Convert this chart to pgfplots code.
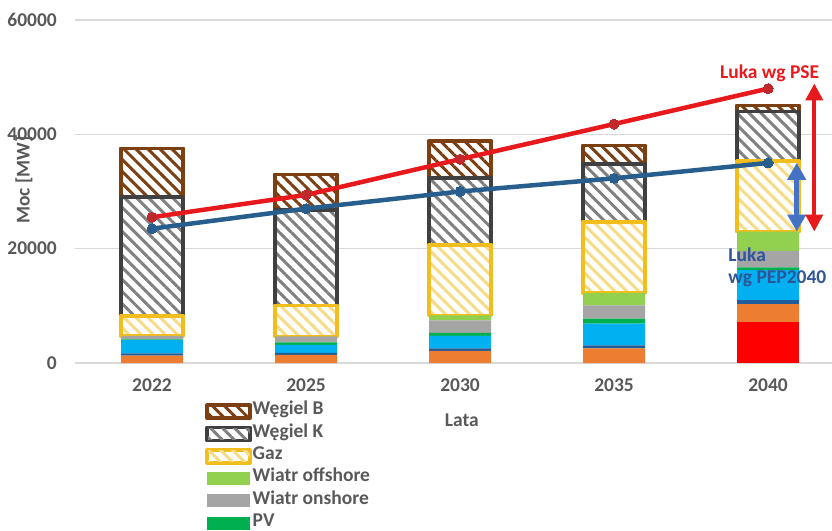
\documentclass[border=0pt]{standalone}
\usepackage{pgfplots}
\usepackage{pgfplotstable}
\pgfplotsset{compat=1.18}
\usepackage{fontspec}
\setmainfont{Carlito}
\usetikzlibrary{patterns.meta,arrows.meta}

\definecolor{txtgray}{HTML}{595959}
\definecolor{gridgray}{HTML}{D9D9D9}
\definecolor{atom}{HTML}{FF0000}
\definecolor{biomasa}{HTML}{ED7D31}
\definecolor{woda}{HTML}{1F5C99}
\definecolor{magazyny}{HTML}{00B0F0}
\definecolor{pv}{HTML}{00B050}
\definecolor{onshore}{HTML}{A5A5A5}
\definecolor{offshore}{HTML}{92D050}
\definecolor{gazedge}{HTML}{F2BE1E}
\definecolor{gazline}{HTML}{F8DB85}
\definecolor{kedge}{HTML}{404040}
\definecolor{kline}{HTML}{808080}
\definecolor{bedge}{HTML}{7B3F12}
\definecolor{psered}{HTML}{E8191C}
\definecolor{psedot}{HTML}{C0282B}
\definecolor{pepblue}{HTML}{275E8E}
\definecolor{arrowblue}{HTML}{4472C4}
\definecolor{peptext}{HTML}{2F5597}

\newcommand\lab{\fontsize{19.5}{22}\selectfont\bfseries}

% installed capacity [MW] by source
\pgfplotstableread{
x atom bio woda mag pv on off gaz k b
0 0    1300 400 2300 150 600  0    3500  20800 8500
1 0    1400 350 1400 450 1050 0    5400  16700 6250
2 0    2100 450 2200 500 2200 900  12250 11800 6400
3 0    2550 550 3800 850 2350 2150 12400 10200 3200
4 7200 3100 700  5250 470 2900 3350 12350 8700  1000
}\moc

\pgfplotsset{
  base/.style={
    scale only axis, width=757pt, height=343pt,
    at={(75pt,167pt)}, anchor=south west,
    xmin=-0.5, xmax=4.415, ymin=0, ymax=60000,
  },
  hatch/.style n args={2}{
    preaction={fill=white},
    pattern={Lines[angle=-45,distance=8.5pt,line width=3pt]},
    pattern color=#2, draw=#1, line width=3.5pt, line join=round,
  },
}

\begin{document}
\begin{tikzpicture}
\path[use as bounding box] (0,0) rectangle (832pt,530pt);

\begin{axis}[base,
  ybar stacked, bar width=62pt,
  axis line style={draw=none},
  major tick length=0pt, tick style={draw=none},
  ymajorgrids, grid style={gridgray, line width=1.5pt},
  scaled y ticks=false,
  ytick={0,20000,40000,60000},
  yticklabels={0,20000,40000,60000},
  xtick={0,1,2,3,4},
  xticklabels={2022,2025,2030,2035,2040},
  tick label style={font=\lab, text=txtgray},
  yticklabel style={inner sep=0pt, xshift=-18pt, anchor=east},
  xticklabel style={inner sep=0pt, yshift=-16pt, anchor=north},
  ylabel={Moc [MW]}, xlabel={Lata},
  every axis y label/.style={at={(axis description cs:-0.0674,0.534)},
    rotate=90, anchor=center, font=\lab, text=txtgray},
  every axis x label/.style={at={(axis description cs:0.511,-0.166)},
    anchor=center, font=\lab, text=txtgray},
  reverse legend, legend cell align=left,
  legend style={at={(axis description cs:0.1744,-0.109)}, anchor=north west,
    draw=none, fill=none, inner sep=0pt, row sep=0pt, font=\lab, text=txtgray,
    nodes={inner ysep=0pt, inner xsep=2.5pt, text height=14.3pt, text depth=8pt}},
  legend image code/.code={\path[line width=0pt, #1] (0pt,-6.5pt) rectangle (43pt,6.5pt);},
]
\addplot[fill=atom, draw=none, forget plot] table[x=x,y=atom]{\moc};
\addplot[fill=biomasa, draw=none, forget plot] table[x=x,y=bio]{\moc};
\addplot[fill=woda, draw=none, forget plot] table[x=x,y=woda]{\moc};
\addplot[fill=magazyny, draw=none, forget plot] table[x=x,y=mag]{\moc};
\addplot[fill=pv, draw=none] table[x=x,y=pv]{\moc};
\addlegendentry{PV}
\addplot[fill=onshore, draw=none] table[x=x,y=on]{\moc};
\addlegendentry{Wiatr onshore}
\addplot[fill=offshore, draw=none] table[x=x,y=off]{\moc};
\addlegendentry{Wiatr offshore}
\addplot[hatch={gazedge}{gazline}] table[x=x,y=gaz]{\moc};
\addlegendentry{Gaz}
\addplot[hatch={kedge}{kline}] table[x=x,y=k]{\moc};
\addlegendentry{Węgiel K}
\addplot[hatch={bedge}{bedge}] table[x=x,y=b]{\moc};
\addlegendentry{Węgiel B}
\end{axis}

\begin{axis}[base, axis lines=none, ticks=none, clip=false]
% demand according to PSE
\addplot[psered, line width=4.5pt, mark=*, mark size=5pt,
  mark options={fill=psedot, draw=psedot, line width=0pt}]
  coordinates {(0,25500) (1,29400) (2,35650) (3,41800) (4,48000)};
% demand according to PEP2040
\addplot[pepblue, line width=4.5pt, mark=*, mark size=5pt,
  mark options={fill=pepblue, draw=pepblue, line width=0pt}]
  coordinates {(0,23500) (1,27000) (2,30000) (3,32300) (4,35000)};
% gaps
\addplot[psered, line width=4pt,
  arrows={Triangle[width=17pt,length=17pt]-Triangle[width=17pt,length=17pt]}]
  coordinates {(4.30,48900) (4.30,23000)};
\addplot[arrowblue, line width=5pt,
  arrows={Triangle[width=18pt,length=17pt]-Triangle[width=18pt,length=17pt]}]
  coordinates {(4.186,35000) (4.186,23000)};
\node[font=\lab, text=psered, anchor=base] at (axis cs:4.01,49790) {Luka wg PSE};
\node[font=\lab, text=peptext, anchor=base west] at (axis cs:3.72,17800) {Luka};
\node[font=\lab, text=peptext, anchor=base west] at (axis cs:3.72,13950) {wg PEP2040};
\end{axis}
\end{tikzpicture}
\end{document}
